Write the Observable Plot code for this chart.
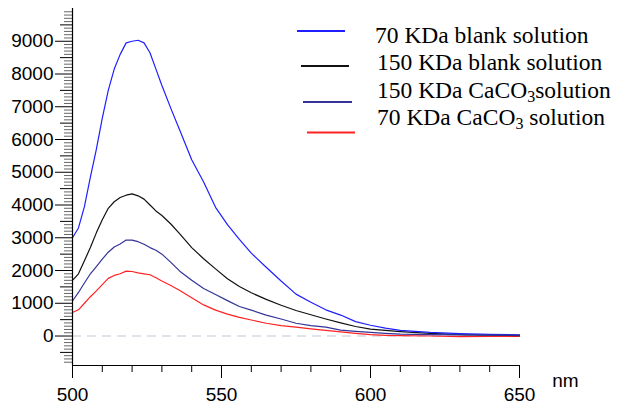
<!DOCTYPE html>
<html>
<head>
<meta charset="utf-8">
<script src="https://cdn.jsdelivr.net/npm/d3@7"></script>
<script src="https://cdn.jsdelivr.net/npm/@observablehq/plot@0.6"></script>
<style>
  html, body { margin: 0; padding: 0; background: #fff; }
</style>
</head>
<body>
<div id="chart"></div>
<script>
// Wavelength (nm)
const wavelengths = [500, 502, 504, 506, 508, 510, 512, 514, 516, 518, 520, 522, 524, 526, 528, 530, 533, 536, 540, 544, 548, 552, 556, 560, 565, 570, 575, 580, 585, 590, 595, 600, 605, 610, 620, 630, 640, 650];

// Fluorescence intensity per series
const blank70 = [3000, 3300, 3950, 4850, 5700, 6650, 7500, 8150, 8600, 8950, 9000, 9030, 8950, 8650, 8150, 7650, 6950, 6280, 5380, 4700, 3930, 3400, 2950, 2530, 2100, 1680, 1280, 1030, 800, 640, 440, 330, 240, 170, 110, 75, 50, 35];
const blank150 = [1700, 1900, 2300, 2700, 3150, 3550, 3900, 4100, 4230, 4300, 4340, 4280, 4180, 4000, 3820, 3680, 3420, 3120, 2700, 2360, 2050, 1750, 1510, 1320, 1120, 940, 780, 650, 520, 400, 290, 210, 170, 135, 80, 40, 25, 15];
const caco150 = [1070, 1330, 1620, 1900, 2120, 2350, 2560, 2720, 2810, 2930, 2930, 2880, 2800, 2700, 2620, 2500, 2250, 1980, 1700, 1450, 1270, 1080, 900, 790, 640, 520, 390, 320, 270, 180, 140, 110, 80, 55, 40, 35, 30, 30];
const caco70 = [720, 800, 1000, 1200, 1380, 1570, 1760, 1850, 1900, 1980, 1970, 1930, 1900, 1870, 1780, 1680, 1540, 1390, 1170, 950, 790, 670, 570, 490, 390, 320, 270, 220, 170, 125, 80, 40, 20, 10, 0, -20, -10, -10];

const seriesNames = ["70 KDa blank solution", "150 KDa blank solution", "150 KDa CaCO3solution", "70 KDa CaCO3 solution"];
const seriesValues = [blank70, blank150, caco150, caco70];
const seriesColors = ["#1f1fff", "#111111", "#33339a", "#ff2222"];

const yMajorTicks = [0, 1000, 2000, 3000, 4000, 5000, 6000, 7000, 8000, 9000];
const xMajorTicks = [500, 550, 600, 650];

const rows = [];
seriesNames.forEach((name, i) => {
  wavelengths.forEach((w, j) => rows.push({series: name, nm: w, value: seriesValues[i][j]}));
});

const yMid = d3.range(-500, 10000, 1000);
const yMinor = d3.range(-800, 10000, 100).filter(v => v % 500 !== 0);
const xMinor = d3.range(500, 651, 10).filter(v => v % 50 !== 0);

const drawOrder = [3, 1, 0, 2];

const chart = Plot.plot({
  width: 622,
  height: 407,
  marginLeft: 72,
  marginRight: 103,
  marginTop: 8,
  marginBottom: 42,
  style: {fontFamily: "'Liberation Sans', Arial, sans-serif", fontSize: "19px", background: "#fff", color: "#000"},
  x: {domain: [500, 650]},
  y: {domain: [-900, 10000]},
  color: {domain: seriesNames, range: seriesColors},
  marks: [
    Plot.ruleY([0], {stroke: "#dfe4ec", strokeWidth: 2, strokeDasharray: "9,6"}),
    ...drawOrder.map(i => Plot.line(rows.filter(r => r.series === seriesNames[i]), {x: "nm", y: "value", stroke: seriesColors[i], strokeWidth: 1.2})),
    Plot.axisY({ticks: yMinor, tickSize: 8, tickFormat: () => "", stroke: "#666", label: null}),
    Plot.axisY({ticks: yMid, tickSize: 12, tickFormat: () => "", label: null}),
    Plot.axisY({ticks: yMajorTicks, tickSize: 17, tickPadding: 2, fontSize: 19, tickFormat: d => String(d), label: null}),
    Plot.axisX({ticks: xMinor, tickSize: 7, tickFormat: () => "", label: null}),
    Plot.axisX({ticks: xMajorTicks, tickSize: 13, tickPadding: 9, fontSize: 19, tickFormat: d => String(d), label: null}),
    Plot.ruleX([500], {stroke: "#000", strokeWidth: 1.2}),
    Plot.ruleY([-900], {stroke: "#000", strokeWidth: 1.2}),
    Plot.text(["nm"], {frameAnchor: "bottom-right", dx: 46, dy: 15, textAnchor: "middle", lineAnchor: "middle", fontSize: 19, fill: "#000"})
  ]
});

// Legend overlay (inside the plot area, top right)
const svg = d3.select(chart);
const legend = svg.append("g")
  .attr("font-family", "'Liberation Serif', 'Times New Roman', serif")
  .attr("font-size", 23.5)
  .attr("text-anchor", "start")
  .attr("fill", "#000");
const legendLayout = [
  {line: [297, 345, 31], text: [375, 43.3]},
  {line: [301, 349, 66], text: [377, 70]},
  {line: [303, 352, 102], text: [377, 98.3]},
  {line: [307, 355, 132.5], text: [377, 125]}
];
legendLayout.forEach((L, i) => {
  legend.append("line")
    .attr("x1", L.line[0]).attr("x2", L.line[1]).attr("y1", L.line[2]).attr("y2", L.line[2])
    .attr("stroke", seriesColors[i]).attr("stroke-width", 2);
  const t = legend.append("text").attr("x", L.text[0]).attr("y", L.text[1]).attr("text-anchor", "start");
  const name = seriesNames[i];
  const k = name.indexOf("CaCO3");
  if (k < 0) {
    t.text(name);
  } else {
    t.append("tspan").text(name.slice(0, k + 4));
    t.append("tspan").attr("dy", 4).attr("font-size", 16).text("3");
    t.append("tspan").attr("dy", -4).text(name.slice(k + 5));
  }
});

document.getElementById("chart").appendChild(chart);
</script>
</body>
</html>
